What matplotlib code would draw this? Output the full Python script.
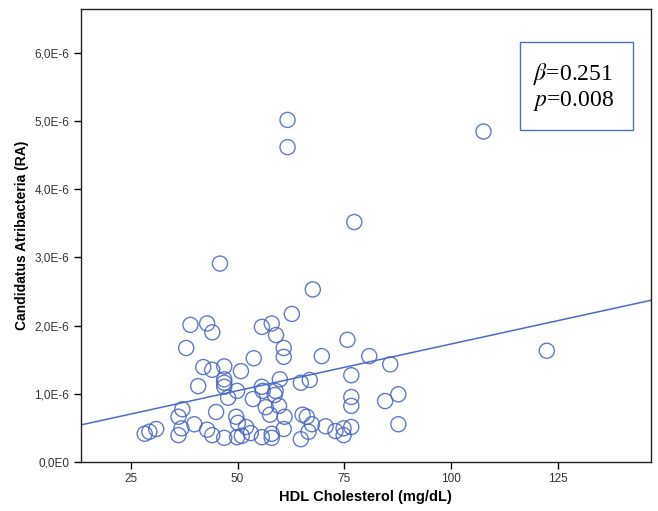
import matplotlib.pyplot as plt
from matplotlib.patches import Rectangle

# HDL cholesterol (mg/dL) and Candidatus Atribacteria relative abundance (x1e-6)
hdl = [61.7, 61.7, 77.3, 107.5, 45.9, 67.6, 122.3, 62.7,
       39.0, 42.9, 44.1, 55.7, 58.0, 59.0, 38.0, 60.8, 60.8, 75.7, 69.7, 80.8,
       53.8, 42.0, 44.1, 46.9, 50.8, 46.9, 46.9, 46.9, 40.8, 49.9, 47.8,
       55.7, 55.9, 58.9, 58.7, 59.9, 64.8, 66.9, 76.6, 76.6, 76.6,
       37.1, 36.2, 45.0, 53.6, 56.6, 57.6, 59.7, 61.0, 65.2, 66.2, 49.7, 50.1,
       39.9, 36.9, 36.2, 31.0, 28.3, 29.4, 42.9, 44.1, 46.9, 49.9, 51.0, 52.0,
       53.1, 55.7, 58.0, 58.0, 60.8, 64.8, 66.6, 67.4, 70.6, 72.9, 74.8, 74.8,
       76.6, 85.7, 87.6, 84.5, 87.6]
ra = [5.02, 4.62, 3.52, 4.85, 2.91, 2.53, 1.63, 2.17,
      2.01, 2.03, 1.90, 1.98, 2.03, 1.86, 1.67, 1.67, 1.54, 1.79, 1.55, 1.55,
      1.52, 1.39, 1.35, 1.40, 1.33, 1.21, 1.16, 1.10, 1.11, 1.04, 0.94,
      1.10, 1.04, 1.04, 0.98, 1.21, 1.16, 1.20, 1.27, 0.95, 0.82,
      0.77, 0.66, 0.73, 0.92, 0.80, 0.69, 0.82, 0.66, 0.69, 0.66, 0.66, 0.57,
      0.55, 0.49, 0.39, 0.48, 0.41, 0.44, 0.47, 0.39, 0.35, 0.36, 0.38, 0.51,
      0.42, 0.36, 0.41, 0.35, 0.48, 0.33, 0.44, 0.55, 0.52, 0.45, 0.49, 0.39,
      0.51, 1.43, 0.99, 0.89, 0.55]

# fit line
fit_x = [13.4, 146.6]
fit_y = [0.54, 2.37]

x_ticks = [25, 50, 75, 100, 125]
y_ticks = [0, 1, 2, 3, 4, 5, 6]
y_labels = ['0,0E0', '1,0E-6', '2,0E-6', '3,0E-6', '4,0E-6', '5,0E-6', '6,0E-6']

plt.rcParams['font.family'] = ['Liberation Sans', 'DejaVu Sans']
plt.rcParams['mathtext.fontset'] = 'stix'

fig = plt.figure(figsize=(6.58, 5.11), dpi=100)
ax = fig.add_axes([0.123, 0.0965, 0.866, 0.886])

col = '#4563c0'
ax.scatter(hdl, ra, s=118, facecolors='none', edgecolors=col, linewidths=1.0, alpha=0.85)
ax.plot(fit_x, fit_y, color='#4a6cc4', lw=1.1)

ax.set_xlim(13.4, 146.6)
ax.set_ylim(0, 6.65)
ax.set_xticks(x_ticks)
ax.set_yticks(y_ticks)
ax.set_yticklabels(y_labels)
ax.tick_params(direction='out', length=5, width=1, labelsize=8.5, labelcolor='#333333')

for s in ax.spines.values():
    s.set_linewidth(1.0)
    s.set_color('#222222')

ax.set_xlabel('HDL Cholesterol (mg/dL)', fontsize=10.5, fontweight='bold', labelpad=3)
ax.set_ylabel('Candidatus Atribacteria (RA)', fontsize=10, fontweight='bold', labelpad=4)

# stats box
ax.add_patch(Rectangle((0.770, 0.733), 0.198, 0.194, transform=ax.transAxes,
                       facecolor='white', edgecolor='#4a72b8', lw=1, zorder=3))
serif = ['Liberation Serif', 'DejaVu Serif']
ax.text(0.793, 0.856, r'$\beta$=0.251', transform=ax.transAxes, fontsize=17,
        family=serif, va='center', ha='left', zorder=4)
ax.text(0.793, 0.797, r'$p$=0.008', transform=ax.transAxes, fontsize=17,
        family=serif, va='center', ha='left', zorder=4)

fig.savefig('out.png', dpi=100)
